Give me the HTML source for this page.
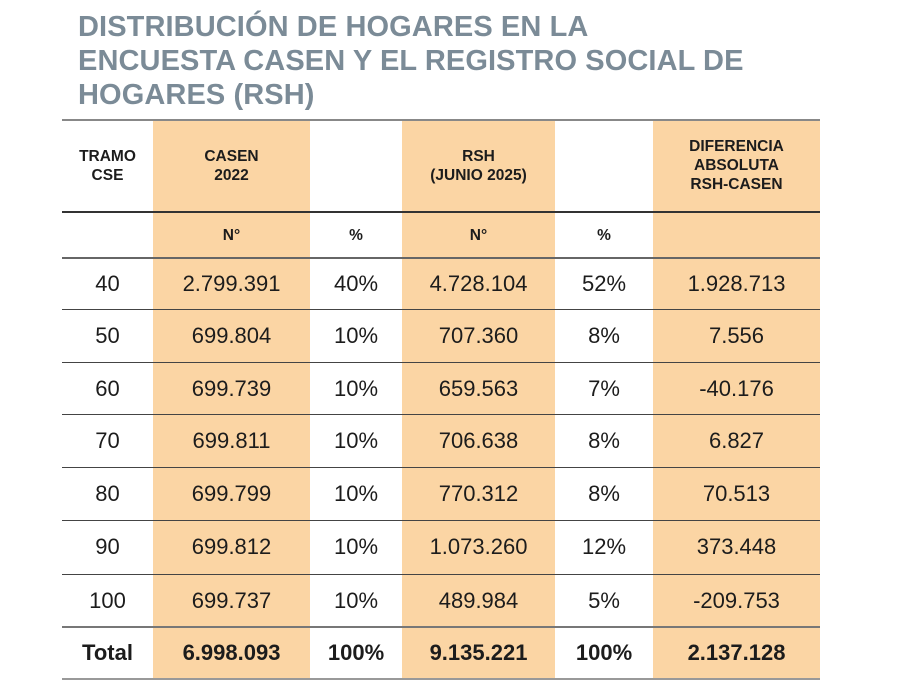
<!DOCTYPE html>
<html><head><meta charset="utf-8"><style>
body{margin:0;width:900px;height:698px;background:#fff;font-family:"Liberation Sans",sans-serif;position:relative;overflow:hidden}
.t{position:absolute;left:78px;top:10px;color:#7b8b97;font-weight:bold;font-size:29px;line-height:34px;letter-spacing:0.1px}
.bg{position:absolute;background:#fbd5a4;top:120px;height:559px}
.ln{position:absolute;left:62px;width:758px;height:2px;background:#555}
.c{position:absolute;text-align:center;color:#1c1c1c;display:flex;align-items:center;justify-content:center}
.h{font-weight:bold;font-size:15.5px;line-height:19px}
.d{font-size:22px}
.b{font-weight:bold;font-size:22px}
</style></head><body>
<div class="t">DISTRIBUCIÓN DE HOGARES EN LA<br>ENCUESTA CASEN Y EL REGISTRO SOCIAL DE<br>HOGARES (RSH)</div>
<div class="bg" style="left:153px;width:157px"></div>
<div class="bg" style="left:402px;width:153px"></div>
<div class="bg" style="left:653px;width:167px"></div>
<div class="ln" style="top:119px;background:#888"></div>
<div class="ln" style="top:211px;height:1.5px;background:#333"></div>
<div class="ln" style="top:257px;background:#666"></div>
<div class="ln" style="top:309px;height:1px;background:#444"></div>
<div class="ln" style="top:362px;height:1px;background:#444"></div>
<div class="ln" style="top:414px;height:1px;background:#444"></div>
<div class="ln" style="top:467px;height:1px;background:#444"></div>
<div class="ln" style="top:520px;height:1px;background:#444"></div>
<div class="ln" style="top:574px;height:1px;background:#444"></div>
<div class="ln" style="top:626px;background:#777"></div>
<div class="ln" style="top:678px;background:#999"></div>
<div id="g"></div>
<script>
var cols=[[62,91],[153,157],[310,92],[402,153],[555,98],[653,167]];
var g=document.getElementById('g'),h='';
function cell(ci,top,ht,cls,txt){h+='<div class="c '+cls+'" style="left:'+cols[ci][0]+'px;width:'+cols[ci][1]+'px;top:'+top+'px;height:'+ht+'px">'+txt+'</div>';}
cell(0,120,91,'h','TRAMO<br>CSE');cell(1,120,91,'h','CASEN<br>2022');cell(3,120,91,'h','RSH<br>(JUNIO 2025)');cell(5,120,91,'h','DIFERENCIA<br>ABSOLUTA<br>RSH-CASEN');
cell(1,212,46,'h','N°');cell(2,212,46,'h','%');cell(3,212,46,'h','N°');cell(4,212,46,'h','%');
var rows=[["40","2.799.391","40%","4.728.104","52%","1.928.713"],["50","699.804","10%","707.360","8%","7.556"],["60","699.739","10%","659.563","7%","-40.176"],["70","699.811","10%","706.638","8%","6.827"],["80","699.799","10%","770.312","8%","70.513"],["90","699.812","10%","1.073.260","12%","373.448"],["100","699.737","10%","489.984","5%","-209.753"]];
var tops=[258,310,363,415,468,521,575];
rows.forEach(function(r,i){r.forEach(function(v,j){cell(j,tops[i],52,'d',v);});});
["Total","6.998.093","100%","9.135.221","100%","2.137.128"].forEach(function(v,j){cell(j,627,52,'b',v);});
g.innerHTML=h;
</script>
</body></html>
